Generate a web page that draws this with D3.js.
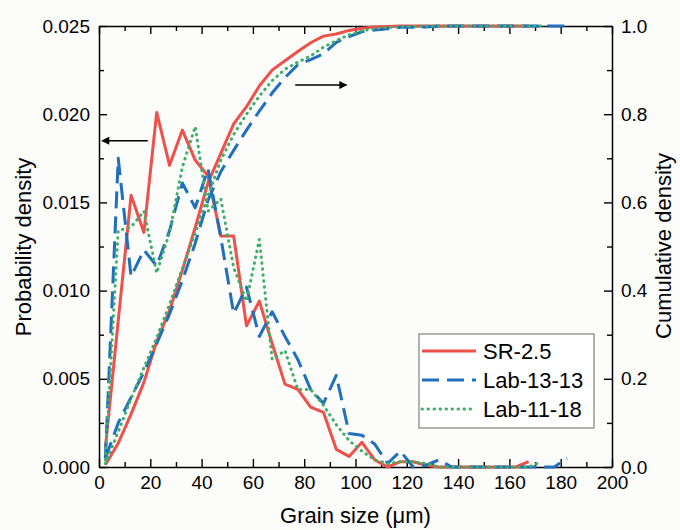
<!DOCTYPE html>
<html>
<head>
<meta charset="utf-8">
<script src="https://cdn.jsdelivr.net/npm/d3@7"></script>
<style>
  body { margin: 0; background: #fcfcfa; }
  text { font-family: "Liberation Sans", Arial, sans-serif; fill: #000; }
</style>
</head>
<body>
<div id="chart"></div>
<script>
// grain size bin centres (um)
var sizes = [2.5, 7.5, 12.5, 17.5, 22.5, 27.5, 32.5, 37.5, 42.5, 47.5, 52.5, 57.5, 62.5, 67.5, 72.5,
  77.5, 82.5, 87.5, 92.5, 97.5, 102.5, 107.5, 112.5, 117.5, 122.5, 127.5, 132.5, 137.5, 142.5,
  147.5, 152.5, 157.5, 162.5, 167.5, 172.5, 177.5, 182.5];

var names = ["SR-2.5", "Lab-13-13", "Lab-11-18"];

// probability density
var pdfSR = [0.0011, 0.0083, 0.0154, 0.0133, 0.0201, 0.0171, 0.0191, 0.0174, 0.0165, 0.0131, 0.0131,
  0.0080, 0.0094, 0.0070, 0.0047, 0.0044, 0.0034, 0.0031, 0.0010, 0.0006, 0.0014, 0.0004, 0.0000,
  0.0003, 0.0003, 0.0001, 0, 0, 0, 0, 0, 0, 0, 0.0003];
var pdfLab13 = [0.0005, 0.0175, 0.0108, 0.0123, 0.0114, 0.0134, 0.0161, 0.0147, 0.0169, 0.0130, 0.0087,
  0.0102, 0.0074, 0.0088, 0.0074, 0.0061, 0.0044, 0.0036, 0.0052, 0.0019, 0.0018, 0.0013, 0.0002,
  0.0009, 0.0000, 0.0001, 0.0004, 0, 0, 0, 0, 0, 0, 0, 0, 0, 0.0005];
var pdfLab11 = [0.0004, 0.0134, 0.0136, 0.0145, 0.0110, 0.0133, 0.0170, 0.0193, 0.0145, 0.0152, 0.0113,
  0.0094, 0.0129, 0.0061, 0.0066, 0.0044, 0.0044, 0.0035, 0.0024, 0.0015, 0.0009, 0.0004, 0.0002,
  0.0003, 0.0003, 0.0002, 0, 0, 0, 0, 0, 0, 0, 0, 0.0003];

// cumulative density
var cdfSR = [0.005, 0.054, 0.120, 0.192, 0.285, 0.355, 0.446, 0.543, 0.645, 0.711, 0.778, 0.817, 0.864,
  0.900, 0.921, 0.942, 0.962, 0.977, 0.982, 0.990, 0.995, 0.998, 0.999, 1, 1, 1, 1, 1, 1, 1, 1, 1, 1, 1];
var cdfLab13 = [0.02, 0.10, 0.158, 0.215, 0.28, 0.347, 0.423, 0.507, 0.605, 0.67, 0.718, 0.764, 0.807,
  0.848, 0.883, 0.912, 0.924, 0.937, 0.963, 0.976, 0.987, 0.991, 0.994, 0.997, 0.997, 0.998,
  1, 1, 1, 1, 1, 1, 1, 1, 1, 1, 1];
var cdfLab11 = [0.008, 0.08, 0.155, 0.225, 0.293, 0.369, 0.45, 0.53, 0.615, 0.696, 0.754, 0.80, 0.841,
  0.876, 0.902, 0.918, 0.932, 0.952, 0.967, 0.98, 0.989, 0.994, 0.997, 0.998, 0.999,
  1, 1, 1, 1, 1, 1, 1, 1, 1, 1];

var xMajor = [0, 20, 40, 60, 80, 100, 120, 140, 160, 180, 200];
var yLeftMajor = [0, 0.005, 0.010, 0.015, 0.020, 0.025];
var yRightMajor = [0, 0.2, 0.4, 0.6, 0.8, 1.0];

var width = 680, height = 530;
var pLeft = 99, pRight = 612, pTop = 26, pBottom = 467;

var svg = d3.select("#chart").append("svg")
    .attr("width", width)
    .attr("height", height);

var x = d3.scaleLinear().domain([0, 200]).range([pLeft, pRight]);
var yL = d3.scaleLinear().domain([0, 0.025]).range([pBottom, pTop]);
var yR = d3.scaleLinear().domain([0, 1]).range([pBottom, pTop]);

// minor ticks halfway between majors
function mids(a) {
  var m = [];
  for (var i = 0; i < a.length - 1; i++) m.push((a[i] + a[i + 1]) / 2);
  return m;
}

function styleAxis(g) {
  g.attr("font-family", null).attr("font-size", null);
  g.selectAll("path").attr("stroke", "#000").attr("stroke-width", 1.5);
  g.selectAll("line").attr("stroke", "#000").attr("stroke-width", 1.4);
  g.selectAll("text").style("font-size", "19px").attr("fill", "#000");
}

var axes = [
  { a: d3.axisBottom(x).tickValues(xMajor).tickFormat(d3.format("d")), t: "translate(0," + pBottom + ")", m: d3.axisBottom(x).tickValues(mids(xMajor)) },
  { a: d3.axisTop(x).tickValues(xMajor).tickFormat(""), t: "translate(0," + pTop + ")", m: d3.axisTop(x).tickValues(mids(xMajor)) },
  { a: d3.axisLeft(yL).tickValues(yLeftMajor).tickFormat(d3.format(".3f")), t: "translate(" + pLeft + ",0)", m: d3.axisLeft(yL).tickValues(mids(yLeftMajor)) },
  { a: d3.axisRight(yR).tickValues(yRightMajor).tickFormat(d3.format(".1f")), t: "translate(" + pRight + ",0)", m: d3.axisRight(yR).tickValues(mids(yRightMajor)) }
];

axes.forEach(function (ax) {
  svg.append("g").attr("transform", ax.t)
    .call(ax.a.tickSizeInner(-8).tickSizeOuter(0).tickPadding(9))
    .call(styleAxis);
  svg.append("g").attr("transform", ax.t)
    .call(ax.m.tickSizeInner(-5).tickSizeOuter(0).tickFormat(""))
    .call(function (g) { g.select(".domain").remove(); })
    .call(styleAxis);
});

// series
var series = [
  { name: names[0], pdf: pdfSR, cdf: cdfSR, color: "#f0504a", dash: null, cap: "butt" },
  { name: names[1], pdf: pdfLab13, cdf: cdfLab13, color: "#1f6fbd", dash: "17,8", cap: "butt" },
  { name: names[2], pdf: pdfLab11, cdf: cdfLab11, color: "#3daf68", dash: "0.5,5.5", cap: "round" }
];

var linePdf = d3.line().x(function (d) { return x(d[0]); }).y(function (d) { return yL(d[1]); });
var lineCdf = d3.line().x(function (d) { return x(d[0]); }).y(function (d) { return yR(d[1]); });

series.forEach(function (s) {
  var p = s.pdf.map(function (v, i) { return [sizes[i], v]; });
  var c = s.cdf.map(function (v, i) { return [sizes[i], v]; });
  [[p, linePdf], [c, lineCdf]].forEach(function (pair) {
    svg.append("path")
      .datum(pair[0])
      .attr("d", pair[1])
      .attr("fill", "none")
      .attr("stroke", s.color)
      .attr("stroke-width", 3)
      .attr("stroke-linejoin", "round")
      .attr("stroke-linecap", s.cap)
      .attr("stroke-dasharray", s.dash);
  });
});

// arrows pointing to their axes
var defs = svg.append("defs");
defs.append("marker")
    .attr("id", "head")
    .attr("viewBox", "0 0 10 10")
    .attr("refX", 9).attr("refY", 5)
    .attr("markerWidth", 13).attr("markerHeight", 8)
    .attr("markerUnits", "userSpaceOnUse")
    .attr("orient", "auto")
  .append("path")
    .attr("d", "M0,0L10,5L0,10Z")
    .attr("fill", "#000");

svg.append("line")
    .attr("x1", x(19)).attr("x2", x(1.2))
    .attr("y1", yL(0.0185)).attr("y2", yL(0.0185))
    .attr("stroke", "#000").attr("stroke-width", 1.5)
    .attr("marker-end", "url(#head)");
svg.append("line")
    .attr("x1", x(76.5)).attr("x2", x(96.5))
    .attr("y1", yR(0.866)).attr("y2", yR(0.866))
    .attr("stroke", "#000").attr("stroke-width", 1.5)
    .attr("marker-end", "url(#head)");

// legend
var lg = svg.append("g").attr("transform", "translate(419,334)");
lg.append("rect")
    .attr("width", 175).attr("height", 94)
    .attr("fill", "#ffffff")
    .attr("stroke", "#808080").attr("stroke-width", 1.2);
series.forEach(function (s, i) {
  var yy = 17 + i * 29;
  lg.append("line")
    .attr("x1", 3).attr("x2", 57)
    .attr("y1", yy).attr("y2", yy)
    .attr("stroke", s.color).attr("stroke-width", 3)
    .attr("stroke-linecap", s.cap)
    .attr("stroke-dasharray", s.dash);
  lg.append("text")
    .attr("x", 64).attr("y", yy + 8)
    .style("font-size", "22px")
    .text(s.name);
});

// axis titles
svg.append("text")
    .attr("x", (pLeft + pRight) / 2).attr("y", 523)
    .attr("text-anchor", "middle")
    .style("font-size", "22px")
    .text("Grain size (\u03bcm)");
svg.append("text")
    .attr("transform", "translate(31," + 247 + ") rotate(-90)")
    .attr("text-anchor", "middle")
    .style("font-size", "22px")
    .text("Probability density");
svg.append("text")
    .attr("transform", "translate(671," + 246 + ") rotate(-90)")
    .attr("text-anchor", "middle")
    .style("font-size", "22px")
    .text("Cumulative density");
</script>
</body>
</html>
